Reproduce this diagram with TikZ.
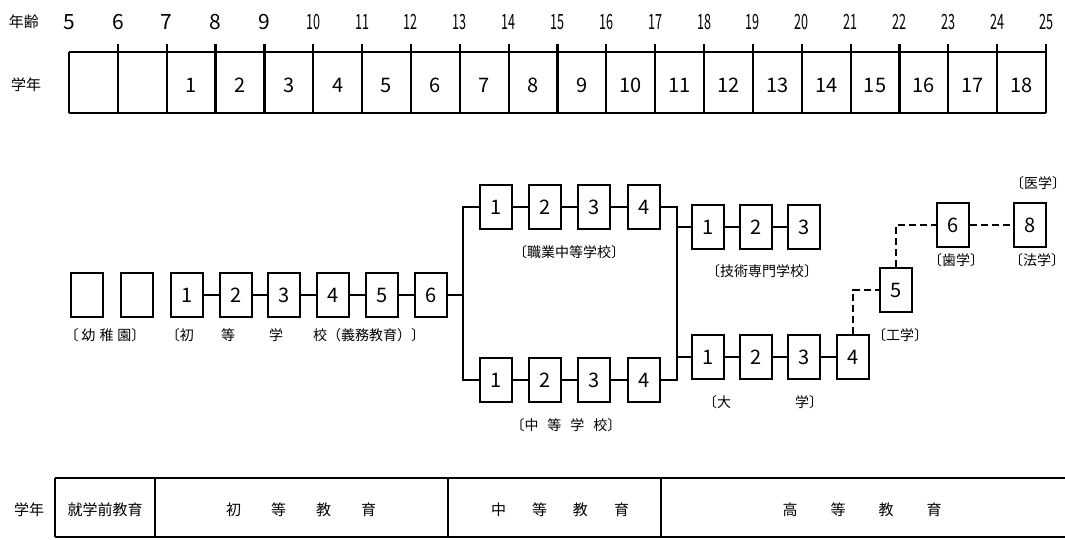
\documentclass[tikz,border=0pt]{standalone}
\usepackage{fontspec}
\usepackage{graphicx}
\setmainfont{Noto Sans CJK JP}
\usetikzlibrary{calc}
\begin{document}
\begin{tikzpicture}[x=1pt,y=-1pt,
  yrbox/.style={draw,line width=1.7pt,minimum width=32pt,minimum height=44pt,inner sep=0pt,font=\fontsize{20}{20}\selectfont},
  conn/.style={line width=1.4pt},
  dconn/.style={line width=1.4pt,dash pattern=on 7pt off 4pt},
  lab/.style={font=\fontsize{14}{14}\selectfont,inner sep=0pt},
  hd/.style={font=\fontsize{15}{15}\selectfont,inner sep=0pt},
  agel/.style={font=\fontsize{21}{21}\selectfont,inner sep=0pt},
  grl/.style={font=\fontsize{20}{20}\selectfont,inner sep=0pt},
  tabh/.style={line width=1.5pt},
  tabv/.style={line width=2.2pt},
  btl/.style={font=\fontsize{15}{15}\selectfont,inner sep=0pt}]
\useasboundingbox (0,0) rectangle (1065,539);
% ---------- top table ----------
\node[hd] (hage) at (24,22) {年齢};
\node[hd] (hgrade) at (26,85) {学年};
\draw[tabh] (69,52) -- (1046,52);
\draw[tabh] (69,113) -- (1046,113);
\draw[tabv] (69,52) -- (69,113);
\foreach \i in {1,...,20}{
  \draw[tabv] ({69+\i*48.85},44) -- ({69+\i*48.85},113);
}
\foreach \a [count=\i from 0] in {5,...,25}{
  \node[agel] (age\a) at ({69+\i*48.85},22) {\ifnum\a>9 \scalebox{0.6}[1]{\a}\else\a\fi};
}
\foreach \g in {1,...,18}{
  \node[grl] (gr\g) at ({69+(\g+1.5)*48.85},85) {\g};
}
% ---------- middle diagram ----------
\node[yrbox] (K1) at (87,295) {};
\node[yrbox] (K2) at (137,295) {};
\foreach \n/\x in {1/187,2/236,3/284,4/333,5/382,6/431}{
  \node[yrbox] (P\n) at (\x,295) {\n};
}
\foreach \n/\x in {1/496,2/545,3/594,4/644}{
  \node[yrbox] (V\n) at (\x,207) {\n};
  \node[yrbox] (C\n) at (\x,380) {\n};
}
\foreach \n/\x in {1/708,2/756,3/804}{
  \node[yrbox] (T\n) at (\x,227) {\n};
}
\foreach \n/\x in {1/708,2/756,3/804,4/853}{
  \node[yrbox] (U\n) at (\x,357) {\n};
}
\node[yrbox] (B5) at (896,290) {5};
\node[yrbox] (B6) at (953,225) {6};
\node[yrbox] (B8) at (1030,225) {8};
% chains
\draw[conn] (P1) -- (P2) -- (P3) -- (P4) -- (P5) -- (P6);
\draw[conn] (V1) -- (V2) -- (V3) -- (V4);
\draw[conn] (C1) -- (C2) -- (C3) -- (C4);
\draw[conn] (T1) -- (T2) -- (T3);
\draw[conn] (U1) -- (U2) -- (U3) -- (U4);
% left branch
\coordinate (blx) at (463,0);
\draw[conn] (P6.east) -- (P6.east -| blx);
\draw[conn] (V1.west) -- (V1.west -| blx) -- (C1.west -| blx) -- (C1.west);
% right branch
\coordinate (brx) at (677,0);
\draw[conn] (V4.east) -- (V4.east -| brx) -- (C4.east -| brx) -- (C4.east);
\draw[conn] (T1.west) -- (T1.west -| brx);
\draw[conn] (U1.west) -- (U1.west -| brx);
% dashed
\draw[dconn] (U4.north) -- (U4.north |- B5.west) -- (B5.west);
\draw[dconn] (B5.north) -- (B5.north |- B6.west) -- (B6.west);
\draw[dconn] (B6.east) -- (B8.west);
% labels
\node[lab] (lk) at (105,335) {〔\hspace{3pt}幼\hspace{4pt}稚\hspace{4pt}園〕};
\node[lab,anchor=east] (lp1) at (194,335) {〔初};
\node[lab] (lp2) at (228,335) {等};
\node[lab] (lp3) at (276,335) {学};
\node[lab,anchor=west] (lp4) at (313,335) {校（義務教育）〕};
\node[lab] (lv) at (569,252) {〔職業中等学校〕};
\node[lab] (lt) at (762,271) {〔技術専門学校〕};
\node[lab] (lc) at (566,425) {〔中\hspace{9pt}等\hspace{9pt}学\hspace{9pt}校〕};
\node[lab] (lu1) at (717,402) {〔大};
\node[lab] (lu2) at (809,402) {学〕};
\node[lab] (l5) at (900,335) {〔工学〕};
\node[lab] (l6) at (956,260) {〔歯学〕};
\node[lab] (l8) at (1037,260) {〔法学〕};
\node[lab] (l8b) at (1038,183) {〔医学〕};
% ---------- bottom table ----------
\draw[tabh] (55,478) -- (1065,478);
\draw[tabh] (55,537) -- (1065,537);
\foreach \x in {55,155,448,661}{
  \draw[tabv] (\x,478) -- (\x,537);
}
\node[btl] (bh) at (29,510) {学年};
\node[btl] (b0) at (105,510) {就学前教育};
\node[btl] (b1) at (301,510) {初\hspace{30pt}等\hspace{30pt}教\hspace{30pt}育};
\node[btl] (b2) at (560,510) {中\hspace{26pt}等\hspace{26pt}教\hspace{26pt}育};
\node[btl] (b3) at (862,510) {高\hspace{33pt}等\hspace{33pt}教\hspace{33pt}育};
\end{tikzpicture}
\end{document}
